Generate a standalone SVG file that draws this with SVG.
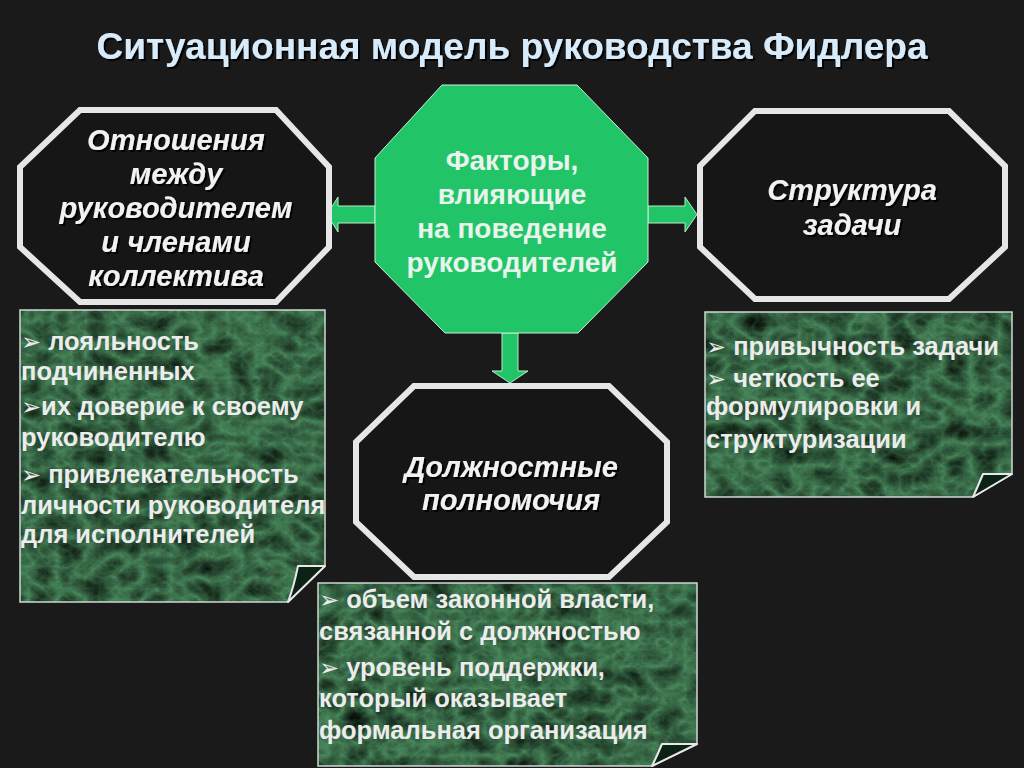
<svg xmlns="http://www.w3.org/2000/svg" width="1024" height="768" viewBox="0 0 1024 768">
<defs>
<style>
.bg{fill:#1a1a1a}
.title{font-family:"Liberation Sans",Arial,sans-serif;font-weight:bold;font-size:37px;fill:#d8ebfa;text-anchor:middle;filter:url(#shadow)}
.oct{fill:#161616;stroke:#e6e6e6;stroke-width:6;stroke-linejoin:miter}
.olabel{font-family:"Liberation Sans",Arial,sans-serif;font-weight:bold;font-style:italic;font-size:29px;fill:#f2f2f2;text-anchor:middle;filter:url(#shadow)}
.green{fill:#22c468;stroke:#c8f0d8;stroke-width:1}
.glabel{font-family:"Liberation Sans",Arial,sans-serif;font-weight:bold;font-size:28px;fill:#e8f4ec;text-anchor:middle}
.arrow{fill:#22c468;stroke:#b8ecc8;stroke-width:1}
.box{filter:url(#marble)}
.boxline{fill:none;stroke:#cfd8d2;stroke-width:1.5}
.flap{fill:#0c2214;stroke:#e8e8e8;stroke-width:2;stroke-linejoin:round}
.btxt{font-family:"Liberation Sans",Arial,sans-serif;font-weight:bold;font-size:25.5px;fill:#ececec}
.bul{font-family:"DejaVu Sans",sans-serif;font-weight:normal;font-size:24px}
</style>
<filter id="shadow" x="-10%" y="-20%" width="120%" height="150%">
<feDropShadow dx="2" dy="2" stdDeviation="0.6" flood-color="#000" flood-opacity="0.9"/>
</filter>
<filter id="marble" x="0" y="0" width="1" height="1" color-interpolation-filters="sRGB">
<feTurbulence type="turbulence" baseFrequency="0.035 0.045" numOctaves="5" seed="7" result="t"/>
<feColorMatrix in="t" type="matrix" values="-0.3 0 0 0 0.3  -0.55 0 0 0 0.56  -0.38 0 0 0 0.38  0 0 0 0 1" result="c"/>
<feComposite in="c" in2="SourceGraphic" operator="in"/>
</filter>
</defs>
<rect class="bg" x="0" y="0" width="1024" height="768"/>
<text class="title" x="512" y="59">Ситуационная модель руководства Фидлера</text>

<g id="connectors">
<polygon class="arrow" points="375,206 338,206 338,197 327,214.5 338,232 338,223 375,223"/>
<polygon class="arrow" points="648,206 685,206 685,197 697,214.5 685,232 685,223 648,223"/>
<polygon class="arrow" points="502,333 518,333 518,371 528,371 510,383 492,371 502,371"/>
</g>

<g id="node-relations">
<polygon class="oct" points="80,110 276,110 329,167 329,247 276,302 80,302 20,247 20,167"/>
<text class="olabel" x="176" y="150">Отношения</text>
<text class="olabel" x="176" y="184">между</text>
<text class="olabel" x="176" y="218">руководителем</text>
<text class="olabel" x="176" y="252">и членами</text>
<text class="olabel" x="176" y="286">коллектива</text>
</g>

<g id="node-factors">
<polygon class="green" points="442,85 577,85 648,158 648,262 578,333 445,333 375,262 375,158"/>
<text class="glabel" x="512" y="170">Факторы,</text>
<text class="glabel" x="512" y="204">влияющие</text>
<text class="glabel" x="512" y="238">на поведение</text>
<text class="glabel" x="512" y="272">руководителей</text>
</g>

<g id="node-structure">
<polygon class="oct" points="755,111 949,111 1005,166 1005,247 949,299 755,299 700,247 700,166"/>
<text class="olabel" x="852" y="200">Структура</text>
<text class="olabel" x="852" y="235">задачи</text>
</g>

<g id="node-authority">
<polygon class="oct" points="414,386 609,386 667,442 667,522 609,577 414,577 356,522 356,442"/>
<text class="olabel" x="511" y="477">Должностные</text>
<text class="olabel" x="511" y="510">полномочия</text>
</g>

<g id="box-relations">
<path class="box" d="M20,310 H325 V566 L288,602 H20 Z"/>
<path class="boxline" d="M20,310 H325 V566 L288,602 H20 Z"/>
<path class="flap" d="M325,566 L298,566 Q294,586 288,602 Z"/>
<text class="btxt" x="21" y="350"><tspan class="bul">➢</tspan> лояльность</text>
<text class="btxt" x="21" y="380">подчиненных</text>
<text class="btxt" x="21" y="415"><tspan class="bul">➢</tspan>их доверие к своему</text>
<text class="btxt" x="21" y="446">руководителю</text>
<text class="btxt" x="21" y="483"><tspan class="bul">➢</tspan> привлекательность</text>
<text class="btxt" x="21" y="514">личности руководителя</text>
<text class="btxt" x="21" y="543">для исполнителей</text>
</g>

<g id="box-structure">
<path class="box" d="M705,312 H1012 V474 L973,497 H705 Z"/>
<path class="boxline" d="M705,312 H1012 V474 L973,497 H705 Z"/>
<path class="flap" d="M1012,474 L983,474 Q978,486 973,497 Z"/>
<text class="btxt" x="706" y="355"><tspan class="bul">➢</tspan> привычность задачи</text>
<text class="btxt" x="706" y="387"><tspan class="bul">➢</tspan> четкость ее</text>
<text class="btxt" x="706" y="415">формулировки и</text>
<text class="btxt" x="706" y="448">структуризации</text>
</g>

<g id="box-authority">
<path class="box" d="M318,583 H697 V744 L652,766 H318 Z"/>
<path class="boxline" d="M318,583 H697 V744 L652,766 H318 Z"/>
<path class="flap" d="M697,744 L662,744 Q657,756 652,766 Z"/>
<text class="btxt" x="319" y="608"><tspan class="bul">➢</tspan> объем законной власти,</text>
<text class="btxt" x="319" y="640">связанной с должностью</text>
<text class="btxt" x="319" y="676"><tspan class="bul">➢</tspan> уровень поддержки,</text>
<text class="btxt" x="319" y="707">который оказывает</text>
<text class="btxt" x="319" y="739">формальная организация</text>
</g>
</svg>
